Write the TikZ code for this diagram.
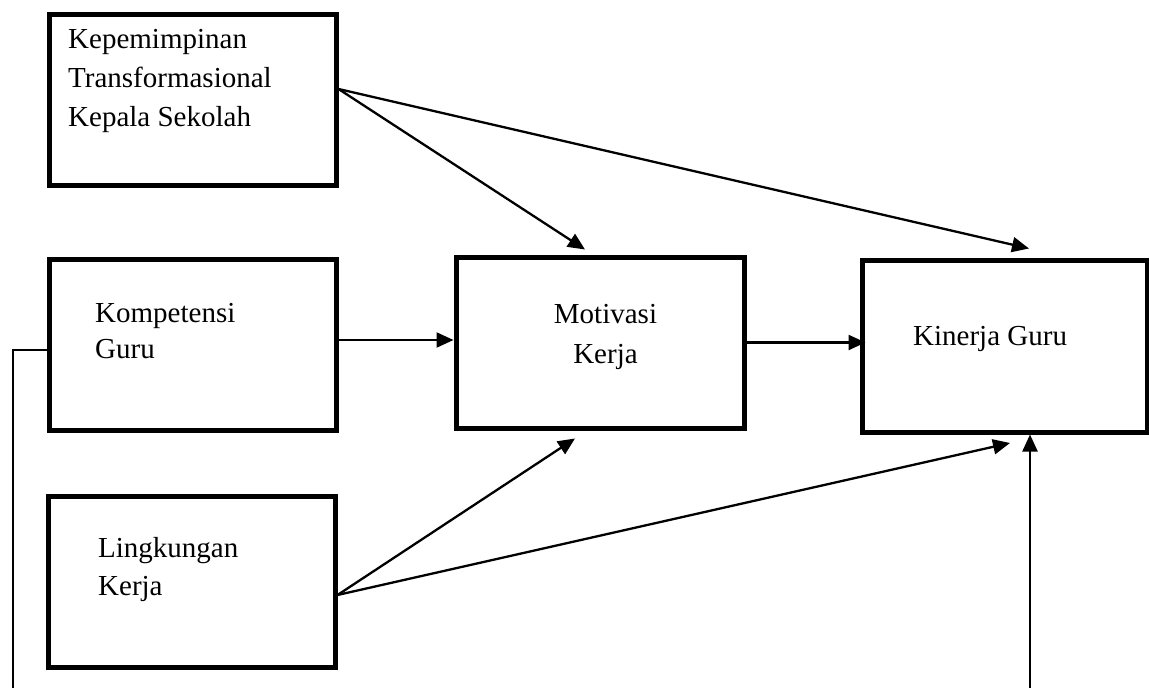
\documentclass[tikz,border=0pt]{standalone}
\usepackage{fontspec}
\setmainfont{Liberation Serif}
\usetikzlibrary{arrows.meta}
\tikzset{
  box/.style={draw=black, line width=5pt, rectangle, inner sep=0pt, minimum width=287pt, minimum height=171pt},
  arr/.style={draw=black, line width=2.3pt, -{Triangle[length=17pt,width=15pt]}},
  plain/.style={draw=black, line width=1.4pt},
  txt/.style={inner sep=0pt, font=\fontsize{29}{38}\selectfont},
}
\begin{document}
\begin{tikzpicture}[x=1pt,y=-1pt]
\useasboundingbox (0,0) rectangle (1149,688);
% boxes
\node[box] (b1) at (192.5,100) {};
\node[box] (b2) at (192.5,344.5) {};
\node[box] (b3) at (191.5,581.5) {};
\node[box, minimum width=288pt] (b4) at (600,342.5) {};
\node[box, minimum width=285pt, minimum height=172pt] (b5) at (1004.5,346) {};
% texts
\node[txt, anchor=base west] (t1a) at (68,48) {Kepemimpinan};
\node[txt, anchor=base west] (t1b) at (68,87) {Transformasional};
\node[txt, anchor=base west] (t1c) at (68,126) {Kepala Sekolah};
\node[txt, anchor=base west] (t2a) at (95,322) {Kompetensi};
\node[txt, anchor=base west] (t2b) at (95,358) {Guru};
\node[txt, anchor=base west] (t3a) at (98,557) {Lingkungan};
\node[txt, anchor=base west] (t3b) at (98,595) {Kerja};
\node[txt, anchor=base] (t4a) at (605.5,323) {Motivasi};
\node[txt, anchor=base] (t4b) at (605.5,363) {Kerja};
\node[txt, anchor=base west] (t5) at (913,345) {Kinerja Guru};
% connectors
\draw[arr] ([yshift=11pt]b1.east) -- ([xshift=-15pt,yshift=5pt]b4.north);
\draw[arr] ([yshift=11pt]b1.east) -- ([xshift=24.5pt,yshift=9pt]b5.north);
\draw[arr] ([yshift=4.5pt]b2.east) coordinate (s2) -- (s2 -| b4.west);
\draw[arr] (b4.east) -- ([xshift=6pt]b4.east -| b5.west);
\draw[arr] ([yshift=-13.5pt]b3.east) -- ([xshift=-25pt,yshift=-8pt]b4.south);
\draw[arr] ([yshift=-13.5pt]b3.east) -- ([xshift=5.5pt,yshift=-8.5pt]b5.south);
\coordinate (vb) at (1030,692);
\draw[arr] (vb) -- (vb |- b5.south);
\coordinate (lb) at (13,692);
\draw[plain] ([yshift=-5.5pt]b2.west) -| (lb);
\end{tikzpicture}
\end{document}
